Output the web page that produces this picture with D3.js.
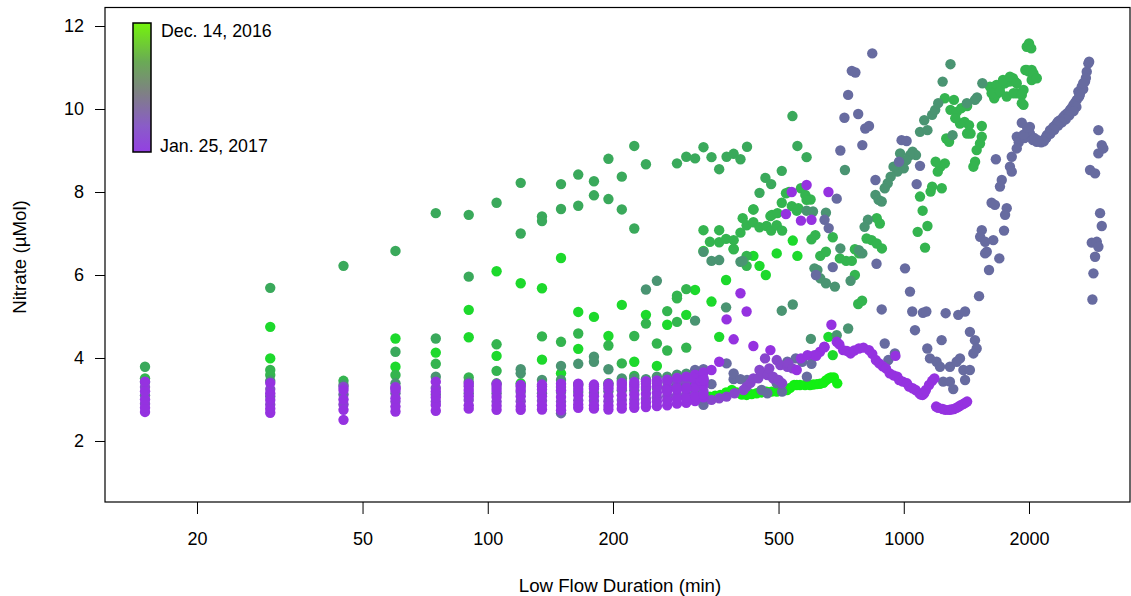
<!DOCTYPE html>
<html>
<head>
<meta charset="utf-8">
<script src="https://cdn.jsdelivr.net/npm/d3@7"></script>
<style>
body { margin: 0; background: #fff; }
svg text { font-family: "Liberation Sans", Arial, Helvetica, sans-serif; fill: #000; }
</style>
</head>
<body>
<svg id="chart" width="1131" height="596"></svg>
<script>
// tick values
const xTicks = [20, 50, 100, 200, 500, 1000, 2000]
const yTicks = [2, 4, 6, 8, 10, 12]
const legendLabels = ["Dec. 14, 2016", "Jan. 25, 2017"]

// short low-flow columns (every 15 min), one array per event
const lowSteps = [15,30,45,60,75,90,105,120,135,150,165,180,195,210,225,240,255,270,285,300,315,330]
const stackP1 = [2.70,2.68,2.51,2.71,2.73,2.78,2.75,2.75,2.76,2.74,2.80,2.78,2.76,2.78,2.80,2.82,2.84,2.86,2.90,2.92,2.96,3.05]
const stackP2 = [2.80,2.78,2.75,2.83,2.87,2.86,2.85,2.84,2.86,2.85,2.88,2.86,2.85,2.88,2.90,2.92,2.95,2.98,3.02,3.05,3.08,3.12]
const stackV1 = [2.90,2.88,2.88,2.95,2.95,2.99,2.95,2.96,2.97,2.95,2.98,2.97,2.96,2.99,3.00,3.02,3.05,3.08,3.10,3.12,3.16,3.20]
const stackP3 = [3.00,2.99,3.00,3.03,3.05,3.08,3.06,3.08,3.08,3.06,3.10,3.08,3.08,3.10,3.12,3.14,3.16,3.20,3.24,3.27,3.30,3.35]
const stackS1 = [3.10,3.08,3.12,3.15,3.12,3.15,3.15,3.18,3.15,3.18,3.18,3.16,3.20,3.22,3.22,3.25,3.28,3.30,3.35,3.38,3.42,3.47]
const stackP4 = [3.20,3.15,3.23,3.23,3.19,3.23,3.23,3.23,3.24,3.22,3.25,3.26,3.27,3.28,3.30,3.30,3.32,3.27,3.27,3.27,3.51,3.45]
const stackV2 = [3.30,3.25,3.30,3.30,3.28,3.32,3.30,3.31,3.32,3.30,3.33,3.32,3.34,3.35,3.36,3.38,3.40,3.42,3.44,3.46,3.50,3.52]
const stackP5 = [3.43,3.40,null,3.28,3.43,3.38,3.37,3.35,3.36,3.38,3.38,3.36,3.38,3.40,3.42,3.44,3.46,3.48,3.52,3.55,3.60,3.65]

// [duration (min), nitrate (uMol)] by colour group
const limePts = [[333,3.05],[342,3.07],[352,3.09],[362,3.11],[374,3.17],[386,3.23],[397,3.17],[408,3.12],[419,3.11],[431,3.13],
  [443,3.15],[455,3.17],[468,3.19],[481,3.19],[495,3.19],[509,3.21],[524,3.23],[533,3.28],[545,3.35],[553,3.35],[563,3.35],
  [579,3.35],[595,3.35],[606,3.36],[618,3.37],[629,3.38],[641,3.40],[650,3.46],[660,3.51],[668,3.53],[679,3.53],[692,3.39]]

const brightPts = [[30,4.75],[30,3.99],[60,4.47],[60,3.79],[75,4.13],[90,5.16],[90,4.50],[105,6.09],[105,4.05],[120,5.80],
  [120,3.39],[135,5.68],[135,3.96],[150,6.41],[150,3.63],[165,5.11],[165,4.22],[180,4.99],[195,4.53],[195,3.39],[210,5.28],
  [225,3.91],[240,5.04],[255,3.81],[270,4.80],[300,5.04],[315,5.64],[330,6.58],[345,5.36],[360,4.51],[374,5.88],[390,6.63],
  [435,6.46],[450,6.22],[466,6.00],[495,6.52],[541,6.83],[555,6.46],[659,4.51],[675,4.07]]

const darkGreenPts = [[15,3.79],[30,5.69],[45,6.22],[60,6.58],[75,7.49],[90,7.45],[105,7.74],[120,8.22],[135,7.41],[150,8.19],
  [165,8.42],[180,8.26],[195,8.80],[210,8.37],[225,9.11],[240,8.67],[285,8.69],[300,8.85],[315,8.81],[330,9.08],[345,8.84],
  [360,8.55],[375,8.85],[390,8.92],[405,8.79],[420,9.09],[90,5.96],[120,7.00],[135,7.30],[150,7.59],[165,7.67],[180,7.92],
  [195,7.83],[210,7.58],[225,7.12],[60,4.15],[75,4.47],[465,8.34],[480,8.19],[450,7.98],[435,7.58],[509,8.51],[540,9.83],
  [555,9.11],[584,8.84]]

const greenPts = [[15,3.51],[30,3.71],[30,3.59],[45,3.45],[60,3.59],[75,3.86],[90,3.53],[105,4.33],[105,3.69],[135,4.52],
  [150,4.39],[165,4.59],[195,4.30],[210,3.87],[225,4.53],[225,3.57],[240,4.83],[255,4.35],[270,5.13],[270,4.18],[285,5.50],
  [285,5.44],[285,4.87],[300,5.66],[300,4.25],[330,7.08],[342,6.80],[360,7.08],[360,6.79],[374,6.87],[390,6.84],[390,6.62],
  [405,7.02],[410,7.37],[419,7.20],[419,6.22],[419,6.46],[435,7.27],[435,7.58],[450,7.15],[468,7.18],[478,7.42],[480,7.07],
  [482,7.45],[497,7.49],[495,7.20],[509,7.74],[510,7.07],[521,7.97],[530,8.00],[538,7.66],[553,7.55],[558,7.61],[566,8.09],
  [580,7.93],[584,7.81],[597,7.82],[600,6.86],[613,6.96],[675,6.91],[630,6.46],[650,6.56],[702,6.40],[727,6.34],[750,6.34],
  [763,6.62],[781,6.52],[763,6.00],[777,5.30],[794,5.38],[814,6.88],[837,6.84],[861,6.76],[886,6.64],[876,7.24],[861,7.37],
  [1094,7.89],[1110,7.55],[1140,7.18],[1080,7.04],[1125,6.66],[1234,8.09],[1170,8.13],[1160,8.01],[1255,8.69],[1225,8.61],
  [1207,8.49],[1193,8.73],[1265,9.29],[1285,9.21],[1484,8.73],[1470,8.61],[1540,9.33],[1525,9.17],[1497,9.01],[1447,9.41],
  [1420,9.41],[1540,9.59],[1975,11.50],[2000,11.58],[2025,11.46],[1960,10.94],[2000,10.90],[2030,10.94],[2030,10.70],
  [1940,10.46],[1870,10.38],[1850,10.66],[1795,10.66],[1750,10.62],[1700,10.50],[1680,10.38],[1650,10.26],[1830,10.74],
  [1940,10.10],[1255,10.26],[1320,10.22],[1295,9.98],[1340,9.93],[1375,10.02],[1420,10.07],[1400,9.69],[1435,9.61],
  [1365,9.65],[1330,9.78],[1611,10.54],[1670,10.58],[1732,10.70],[1800,10.78],[1869,10.62],[1626,10.38],[1703,10.42],
  [1768,10.30],[1836,10.38],[1922,10.34],[1976,10.94],[2050,10.86],[2088,10.74],[1922,10.14]]

const grayGreenPts = [[15,3.42],[30,3.45],[45,3.35],[60,3.39],[75,3.55],[90,3.43],[105,3.39],[120,3.73],[120,3.63],[135,3.47],
  [150,3.81],[150,3.47],[165,3.86],[165,3.37],[180,4.03],[180,3.91],[195,3.73],[210,3.51],[210,3.45],[225,3.51],[240,3.49],
  [240,5.65],[255,5.86],[255,3.55],[270,3.55],[285,3.60],[300,3.62],[315,4.90],[330,6.56],[345,6.34],[360,6.36],[374,5.22],
  [405,6.32],[410,6.34],[509,5.14],[541,5.29],[598,4.46],[690,4.55],[735,4.71],[610,6.16],[620,6.12],[704,6.64],[584,7.55],
  [605,7.53],[650,7.50],[722,8.53],[745,5.86],[630,5.92],[650,5.80],[683,5.72],[1120,9.73],[1170,9.86],[1190,9.98],
  [1210,10.14],[1094,9.45],[1140,9.49],[1050,8.97],[1070,8.89],[1035,8.89],[1015,8.77],[980,8.93],[1000,8.57],[965,8.49],
  [945,8.61],[930,8.37],[915,8.21],[900,8.09],[855,7.93],[870,7.81],[885,7.77],[820,7.33],[805,7.16],[780,6.60],[795,6.52],
  [1295,11.08],[1240,10.66],[1545,10.62],[1500,10.28],[1310,9.37],[1418,10.14],[1483,10.22]]

const slatePts = [[150,2.67],[315,3.71],[330,3.73],[330,2.87],[345,3.37],[375,3.87],[390,3.49],[390,3.63],[405,3.49],[420,3.47],
  [455,3.23],[470,3.15],[495,3.39],[525,3.91],[550,3.99],[570,3.91],[600,3.86],[585,3.55],[510,3.19],[840,11.34],[750,10.92],
  [765,10.88],[735,10.34],[720,9.79],[777,9.88],[808,9.53],[825,9.59],[704,9.00],[795,9.13],[855,8.29],[988,9.25],[1016,9.23],
  [974,8.73],[1074,8.19],[1094,8.63],[690,7.84],[645,7.33],[660,7.13],[615,6.00],[675,6.19],[860,6.27],[1007,6.16],
  [1035,5.60],[885,5.17],[1048,5.12],[1064,4.67],[900,4.35],[1112,5.09],[1133,5.12],[1261,5.08],[1352,5.04],[1404,5.12],
  [1233,4.43],[1442,4.63],[1483,4.43],[1497,4.23],[1470,4.11],[1139,4.23],[918,3.95],[952,4.11],[1156,3.99],[1199,3.91],
  [1222,3.79],[1291,3.79],[1340,3.91],[1365,3.99],[1391,3.71],[1442,3.71],[1404,3.47],[1244,3.43],[1291,3.43],[1315,3.25],
  [1869,9.33],[1922,9.67],[2010,9.57],[2010,9.41],[2045,9.25],[2088,9.21],[2165,9.25],[2207,9.37],[2247,9.49],[2289,9.57],
  [2332,9.65],[2375,9.73],[2419,9.81],[2465,9.89],[2510,9.98],[2557,10.10],[2605,10.22],[2628,10.42],[2678,10.54],
  [2727,10.66],[2753,10.90],[2778,11.10],[2790,11.14],[1890,9.20],[1950,9.30],[1980,9.45],[2060,9.30],[2120,9.22],
  [2140,9.20],[2190,9.30],[2230,9.40],[2270,9.50],[2310,9.60],[2350,9.70],[2400,9.75],[2440,9.85],[2490,9.92],[2530,10.02],
  [2580,10.15],[2640,10.30],[2700,10.48],[2740,10.75],[2700,10.62],[2650,10.35],[2600,10.05],[2560,9.95],[2500,9.85],
  [2450,9.75],[2400,9.68],[2350,9.60],[2300,9.50],[2250,9.40],[2200,9.30],[2170,9.22],[2100,9.25],[1940,9.38],[1980,9.55],
  [1869,9.05],[1818,8.85],[1800,8.61],[1818,8.49],[1720,8.29],[1703,8.13],[1665,8.79],[1626,7.74],[1656,7.69],[1768,7.61],
  [1752,7.45],[1742,7.07],[1540,7.08],[1526,6.92],[1569,6.80],[1641,6.84],[1583,6.56],[1569,6.52],[1697,6.40],[1603,6.12],
  [1517,5.49],[2936,9.49],[2992,9.13],[3018,9.05],[2936,8.93],[2804,8.53],[2883,8.45],[2964,7.49],[2992,7.18],[2831,6.78],
  [2911,6.80],[2936,6.68],[2883,6.44],[2857,6.04],[2841,5.41]]

const violetPts = [[345,2.99],[360,3.03],[375,3.07],[392,3.15],[412,3.23],[419,3.31],[428,3.40],[435,3.51],[447,3.51],
  [450,3.71],[456,3.63],[464,3.99],[470,3.59],[475,3.75],[485,3.51],[485,3.55],[495,3.95],[500,3.47],[505,3.83],[510,3.39],
  [525,3.79],[528,3.87],[540,3.75]]

const purplePts = [[269,3.23],[285,3.27],[300,3.27],[312,3.53],[325,3.45],[330,3.47],[345,3.71],[360,3.91],[390,4.45],
  [435,4.29],[478,4.19],[405,5.56],[419,5.12],[375,4.93],[553,3.71],[566,3.99],[587,4.07],[610,4.07],[629,4.15],[644,4.27],
  [616,4.05],[645,4.26],[670,4.80],[690,4.39],[700,4.33],[715,4.19],[730,4.17],[745,4.11],[760,4.18],[780,4.23],[800,4.25],
  [825,4.19],[840,4.10],[857,3.95],[873,3.87],[890,3.80],[906,3.75],[925,3.63],[945,3.58],[965,3.55],[975,3.47],[995,3.43],
  [1018,3.39],[1030,3.31],[1050,3.27],[1068,3.23],[1090,3.15],[1100,3.12],[1110,3.11],[1120,3.15],[1130,3.23],[1150,3.35],
  [1170,3.45],[1185,3.51],[1196,2.83],[1210,2.80],[1240,2.77],[1260,2.75],[1285,2.75],[1300,2.76],[1320,2.77],[1340,2.80],
  [1355,2.83],[1370,2.86],[1390,2.89],[1405,2.92],[1420,2.95],[955,4.05],[538,8.00],[584,8.17],[659,8.00],[521,7.47],
  [566,7.31],[600,7.33]]

const palette = {
  lime: "#12ef12", bright: "#1dd92c", dark: "#3aa95b", green: "#34b44f",
  grayGreen: "#4a9472", slate: "#676ba0", violet: "#8746cc", purple: "#9532e0"
}

const plotL = 105, plotR = 1130, plotT = 7.5, plotB = 502
const svg = d3.select("#chart")

const x = d3.scaleLog().domain([12.02, 3498]).range([plotL, plotR])
const y = d3.scaleLinear().domain([0.53, 12.446]).range([plotB, plotT])

// build point list in drawing order
function stackPoints(vals, col){
  let out = []
  vals.forEach((v, i) => {
    if (v != null) out.push({m: lowSteps[i], v: v, c: col})
  })
  return out
}
function pairPoints(arr, col){
  return arr.map(p => ({m: p[0], v: p[1], c: col}))
}

let points = []
  .concat(pairPoints(limePts, palette.lime))
  .concat(pairPoints(brightPts, palette.bright))
  .concat(pairPoints(darkGreenPts, palette.dark))
  .concat(pairPoints(greenPts, palette.green))
  .concat(pairPoints(grayGreenPts, palette.grayGreen))
  .concat(pairPoints(slatePts, palette.slate))
  .concat(stackPoints(stackS1, palette.slate))
  .concat(pairPoints(violetPts, palette.violet))
  .concat(stackPoints(stackV1, palette.violet))
  .concat(stackPoints(stackV2, palette.violet))
  .concat(stackPoints(stackP1, palette.purple))
  .concat(stackPoints(stackP2, palette.purple))
  .concat(stackPoints(stackP3, palette.purple))
  .concat(stackPoints(stackP4, palette.purple))
  .concat(stackPoints(stackP5, palette.purple))
  .concat(pairPoints(purplePts, palette.purple))

svg.append("g")
  .selectAll("circle")
  .data(points)
  .join("circle")
  .attr("cx", d => x(d.m))
  .attr("cy", d => y(d.v))
  .attr("r", 5.2)
  .attr("fill", d => d.c)

// plot frame
svg.append("rect")
  .attr("x", plotL).attr("y", plotT)
  .attr("width", plotR - plotL).attr("height", plotB - plotT)
  .attr("fill", "none").attr("stroke", "#000").attr("stroke-width", 1.2)

// x axis
let xAxis = svg.append("g")
  .attr("transform", `translate(0,${plotB})`)
  .call(d3.axisBottom(x).tickValues(xTicks).tickFormat(d3.format("d")).tickSize(12).tickPadding(18))
xAxis.select(".domain").remove()
xAxis.selectAll("line").attr("stroke", "#000").attr("stroke-width", 1)
xAxis.selectAll("text").attr("font-size", 18).attr("font-family", "Liberation Sans, Arial, sans-serif")

// y axis
let yAxis = svg.append("g")
  .attr("transform", `translate(${plotL},0)`)
  .call(d3.axisLeft(y).tickValues(yTicks).tickSize(10).tickPadding(11))
yAxis.select(".domain").remove()
yAxis.selectAll("line").attr("stroke", "#000").attr("stroke-width", 1)
yAxis.selectAll("text").attr("font-size", 18).attr("font-family", "Liberation Sans, Arial, sans-serif")

// axis titles
svg.append("text")
  .attr("x", 620).attr("y", 592)
  .attr("text-anchor", "middle")
  .attr("font-size", 18.7)
  .text("Low Flow Duration (min)")

svg.append("text")
  .attr("transform", "translate(26,257) rotate(-90)")
  .attr("text-anchor", "middle")
  .attr("font-size", 18.7)
  .text("Nitrate (\u00b5Mol)")

// colour bar legend
let defs = svg.append("defs")
let grad = defs.append("linearGradient")
  .attr("id", "dateGrad")
  .attr("x1", 0).attr("y1", 0).attr("x2", 0).attr("y2", 1)
const gradStops = [[0, "#74f40c"], [0.3, "#6aaa55"], [0.55, "#7f7f86"], [0.8, "#8a5cc8"], [1, "#9340e2"]]
gradStops.forEach(s => {
  grad.append("stop").attr("offset", s[0]).attr("stop-color", s[1])
})

svg.append("rect")
  .attr("x", 133).attr("y", 23)
  .attr("width", 18).attr("height", 129)
  .attr("fill", "url(#dateGrad)")
  .attr("stroke", "#000").attr("stroke-width", 1.5)

svg.append("text")
  .attr("x", 161).attr("y", 36.5)
  .attr("font-size", 17.8)
  .text(legendLabels[0])

svg.append("text")
  .attr("x", 160).attr("y", 151.5)
  .attr("font-size", 17.8)
  .text(legendLabels[1])
</script>
</body>
</html>
